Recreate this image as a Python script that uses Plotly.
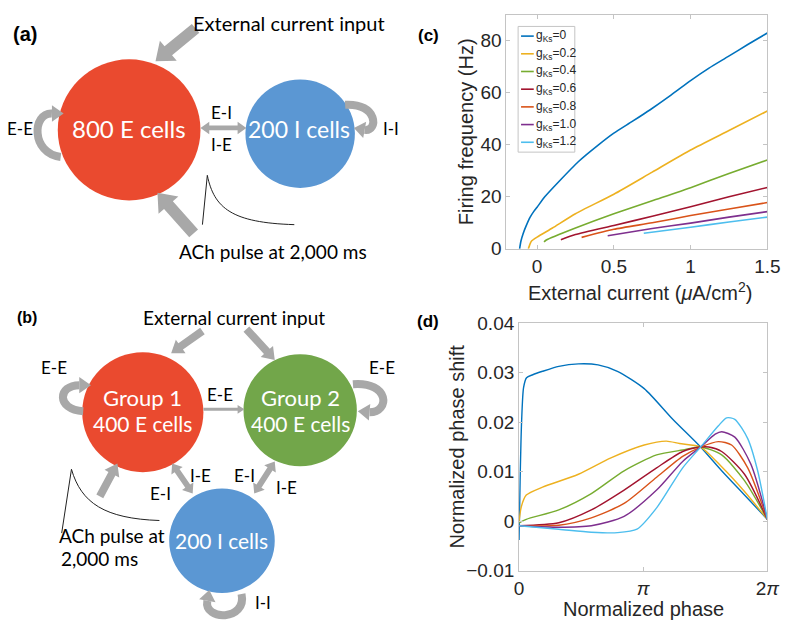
import plotly.graph_objects as go

W, H = 795, 634

# ---------------- data: panel (c) f-I curves ----------------
gks_labels = ["0", "0.2", "0.4", "0.6", "0.8", "1.0", "1.2"]
colors = ["#0072BD", "#EDB120", "#77AC30", "#A2142F", "#D95319", "#7E2F8E", "#4DBEEE"]

fi_x_g00 = [-0.114, -0.105, -0.09, -0.07, -0.047, -0.02, 0, 0.05, 0.144, 0.27, 0.4, 0.5, 0.62, 0.737, 0.87, 1.0, 1.12, 1.246, 1.37, 1.5]
fi_y_g00 = [0, 3, 6, 9, 12, 14.5, 16, 20, 26, 33.6, 40, 44.5, 49, 53.5, 59, 64.7, 69.5, 74, 78.5, 83]
fi_x_g02 = [-0.057, -0.045, -0.036, 0, 0.1, 0.25, 0.5, 0.75, 1.0, 1.25, 1.5]
fi_y_g02 = [0, 2, 3, 4.5, 8, 13.5, 21, 29.5, 38, 45.5, 53]
fi_x_g04 = [0.045, 0.06, 0.25, 0.5, 0.75, 1.0, 1.25, 1.5]
fi_y_g04 = [2.7, 3.4, 8, 13.5, 18.5, 23.5, 29, 34.2]
fi_x_g06 = [0.155, 0.25, 0.5, 0.75, 1.0, 1.25, 1.5]
fi_y_g06 = [3.5, 5.5, 9, 12.5, 16.2, 20, 23.6]
fi_x_g08 = [0.29, 0.5, 0.75, 1.0, 1.25, 1.5]
fi_y_g08 = [4.4, 7.5, 10, 12.8, 15.3, 17.8]
fi_x_g10 = [0.46, 0.75, 1.0, 1.25, 1.5]
fi_y_g10 = [5, 7.8, 9.9, 12.2, 14.3]
fi_x_g12 = [0.695, 1.0, 1.25, 1.5]
fi_y_g12 = [6, 8.3, 10.3, 12.2]

# ---------------- data: panel (d) phase response curves ----------------
# phase as a fraction of the cycle (0 .. 1 == 0 .. 2*pi)
prc_x_g00 = [0, 0.004, 0.010, 0.018, 0.03, 0.055, 0.0945, 0.160, 0.239, 0.318, 0.396, 0.504, 0.619, 0.731, 0.816, 0.908, 1.0]
prc_y_g00 = [-0.0038, 0.008, 0.020, 0.027, 0.0290, 0.0296, 0.0303, 0.0313, 0.0318, 0.0316, 0.0303, 0.0268, 0.0206, 0.0150, 0.0102, 0.0053, 0.0004]
prc_x_g02 = [0, 0.0092, 0.0289, 0.0945, 0.239, 0.370, 0.504, 0.593, 0.646, 0.731, 0.816, 0.908, 1.0]
prc_y_g02 = [0, 0.0030, 0.0053, 0.0069, 0.0095, 0.0128, 0.0154, 0.0162, 0.0157, 0.0150, 0.0110, 0.0060, 0.0004]
prc_x_g04 = [0, 0.0289, 0.160, 0.291, 0.423, 0.554, 0.659, 0.731, 0.816, 0.908, 1.0]
prc_y_g04 = [-0.0003, 0.0004, 0.0023, 0.0056, 0.0102, 0.0134, 0.0144, 0.0150, 0.0134, 0.0082, 0.0004]
prc_x_g06 = [0, 0.160, 0.291, 0.423, 0.554, 0.659, 0.731, 0.764, 0.816, 0.908, 1.0]
prc_y_g06 = [-0.0009, -0.0003, 0.0023, 0.0063, 0.0108, 0.0141, 0.0150, 0.0150, 0.0141, 0.0095, 0.0004]
prc_x_g08 = [0, 0.160, 0.291, 0.423, 0.554, 0.659, 0.731, 0.803, 0.856, 0.921, 1.0]
prc_y_g08 = [-0.0009, -0.0008, 0.0007, 0.0036, 0.0089, 0.0131, 0.0150, 0.0161, 0.0154, 0.0108, 0.0004]
prc_x_g10 = [0, 0.160, 0.291, 0.423, 0.554, 0.659, 0.731, 0.790, 0.816, 0.869, 0.934, 1.0]
prc_y_g10 = [-0.0009, -0.0012, -0.0009, 0.0010, 0.0063, 0.0121, 0.0150, 0.0176, 0.0181, 0.0170, 0.0115, 0.0004]
prc_x_g12 = [0, 0.160, 0.291, 0.396, 0.475, 0.554, 0.659, 0.731, 0.803, 0.836, 0.869, 0.921, 0.961, 1.0]
prc_y_g12 = [-0.0009, -0.0016, -0.0022, -0.0023, -0.0016, 0.0027, 0.0108, 0.0150, 0.0193, 0.0209, 0.0206, 0.0167, 0.0102, 0.0004]

fi_x = [fi_x_g00, fi_x_g02, fi_x_g04, fi_x_g06, fi_x_g08, fi_x_g10, fi_x_g12]
fi_y = [fi_y_g00, fi_y_g02, fi_y_g04, fi_y_g06, fi_y_g08, fi_y_g10, fi_y_g12]
prc_x = [prc_x_g00, prc_x_g02, prc_x_g04, prc_x_g06, prc_x_g08, prc_x_g10, prc_x_g12]
prc_y = [prc_y_g00, prc_y_g02, prc_y_g04, prc_y_g06, prc_y_g08, prc_y_g10, prc_y_g12]

c_xticks = [0, 0.5, 1, 1.5]
c_xticklabels = ["0", "0.5", "1", "1.5"]
c_yticks = [0, 20, 40, 60, 80]
d_xticks = [0, 0.5, 1]
d_xticklabels = ["0", "<i>π</i>", "2<i>π</i>"]
d_yticks = [-0.01, 0, 0.01, 0.02, 0.03, 0.04]
d_yticklabels = ["−0.01", "0", "0.01", "0.02", "0.03", "0.04"]

fig = go.Figure()
for i in range(len(gks_labels)):
    fig.add_trace(go.Scatter(x=fi_x[i], y=fi_y[i], mode="lines", xaxis="x", yaxis="y",
                             line=dict(color=colors[i], width=1.6, shape="spline", smoothing=0.6),
                             name="g<sub>Ks</sub>=" + gks_labels[i], showlegend=False))
for i in range(len(gks_labels)):
    fig.add_trace(go.Scatter(x=prc_x[i], y=prc_y[i], mode="lines", xaxis="x2", yaxis="y2",
                             line=dict(color=colors[i], width=1.4, shape="spline", smoothing=0.7),
                             name="g<sub>Ks</sub>=" + gks_labels[i], showlegend=False))

SANS = "Liberation Sans, Arial, sans-serif"
AX_FONT = dict(family=SANS, size=19, color="#262626")
axis_common = dict(showgrid=False, zeroline=False, showline=True, mirror="ticks",
                   linecolor="#c4c4c4", linewidth=1, ticks="inside", ticklen=4,
                   tickcolor="#c4c4c4", tickfont=AX_FONT)


def px(x):
    return x / W


def py(y):
    return 1 - y / H


fig.update_layout(
    width=W, height=H, margin=dict(l=0, r=0, t=0, b=0),
    paper_bgcolor="white", plot_bgcolor="white", showlegend=False,
    xaxis=dict(domain=[px(513), px(780)], range=[-0.2, 1.5], tickvals=c_xticks,
               ticktext=c_xticklabels, anchor="y", **axis_common),
    yaxis=dict(domain=[py(247), py(5)], range=[0, 90], tickvals=c_yticks, anchor="x", **axis_common),
    xaxis2=dict(domain=[px(526), px(780)], range=[0, 1], tickvals=d_xticks,
                ticktext=d_xticklabels, anchor="y2", **axis_common),
    yaxis2=dict(domain=[py(580), py(324)], range=[-0.01, 0.04], tickvals=d_yticks,
                ticktext=d_yticklabels, anchor="x2", **axis_common),
)

shapes = []
annotations = []

DIA = "Lato, Open Sans, sans-serif"


def text(x, y, s, size=16, color="black", family=DIA, bold=False, angle=0, xanchor="center"):
    annotations.append(dict(x=px(x), y=py(y), xref="paper", yref="paper", text=("<b>%s</b>" % s) if bold else s,
                            showarrow=False, xanchor=xanchor, yanchor="middle", textangle=angle,
                            font=dict(family=family, size=size, color=color)))


def circle(cx, cy, r, color):
    shapes.append(dict(type="circle", xref="paper", yref="paper", x0=px(cx - r), x1=px(cx + r),
                       y0=py(cy + r), y1=py(cy - r), fillcolor=color, line=dict(width=0), layer="below"))


def path_str(pts, close=True):
    s = "M " + " L ".join("%.5f,%.5f" % (px(x), py(y)) for x, y in pts)
    return s + (" Z" if close else "")


def arrow(x0, y0, x1, y1, shaft=8, head=18, hlen=12, double=False, color="#A8A8A8"):
    import math
    dx, dy = x1 - x0, y1 - y0
    L = math.hypot(dx, dy)
    ux, uy = dx / L, dy / L
    nx, ny = -uy, ux
    def P(bx, by, a, b):
        return (bx + ux * a + nx * b, by + uy * a + ny * b)
    pts = []
    if double:
        pts += [(x0, y0), P(x0, y0, hlen, head / 2), P(x0, y0, hlen, shaft / 2)]
    else:
        pts += [P(x0, y0, 0, shaft / 2)]
    pts += [P(x1, y1, -hlen, shaft / 2), P(x1, y1, -hlen, head / 2), (x1, y1),
            P(x1, y1, -hlen, -head / 2), P(x1, y1, -hlen, -shaft / 2)]
    if double:
        pts += [P(x0, y0, hlen, -shaft / 2), P(x0, y0, hlen, -head / 2)]
    else:
        pts += [P(x0, y0, 0, -shaft / 2)]
    shapes.append(dict(type="path", xref="paper", yref="paper", path=path_str(pts),
                       fillcolor=color, line=dict(width=0)))


def loop(p0, c1, c2, pe, tip, width=8, head=17, color="#A8A8A8"):
    import math
    path = "M %.5f,%.5f C %.5f,%.5f %.5f,%.5f %.5f,%.5f" % (
        px(p0[0]), py(p0[1]), px(c1[0]), py(c1[1]), px(c2[0]), py(c2[1]), px(pe[0]), py(pe[1]))
    shapes.append(dict(type="path", xref="paper", yref="paper", path=path,
                       line=dict(color=color, width=width)))
    dx, dy = tip[0] - pe[0], tip[1] - pe[1]
    L = math.hypot(dx, dy)
    nx, ny = -dy / L, dx / L
    pts = [(pe[0] + nx * head / 2, pe[1] + ny * head / 2), tip, (pe[0] - nx * head / 2, pe[1] - ny * head / 2)]
    shapes.append(dict(type="path", xref="paper", yref="paper", path=path_str(pts),
                       fillcolor=color, line=dict(width=0)))


def pulse(pts_line, curve):
    path = path_str(pts_line, close=False) + " C " + " ".join("%.5f,%.5f" % (px(x), py(y)) for x, y in curve)
    shapes.append(dict(type="path", xref="paper", yref="paper", path=path, line=dict(color="#222", width=1)))


# ---------------- panel (a) ----------------
circle(127, 124, 73, "#EA4A2F")
circle(302, 128, 56, "#5B97D3")
text(20, 25, "(a)", size=20, family=SANS, bold=True)
text(291, 13, "External current input", size=20)
arrow(195, 19, 154, 53, shaft=12, head=27, hlen=17)
arrow(193, 231, 156, 189, shaft=12, head=27, hlen=17)
arrow(200, 122, 247, 122, shaft=5, head=13, hlen=9, double=True)
text(127, 123, "800 E cells", size=24, color="white")
text(301, 123, "200 I cells", size=23, color="white")
text(222, 106, "E-I", size=17)
text(222, 139, "I-E", size=17)
text(15, 123, "E-E", size=17)
text(395, 123, "I-I", size=17)
loop((57, 152), (26, 148), (28, 106), (48, 107), (60, 107))
loop((348, 98), (382, 96), (382, 126), (368, 124), (357, 122))
pulse([(202, 222), (207, 171)], [(214, 205), (232, 220), (296, 222)])
text(274, 250, "ACh pulse at 2,000 ms", size=19)

# ---------------- panel (b) ----------------
circle(141, 416, 62, "#EA4A2F")
circle(302, 414, 58, "#72A64A")
circle(222, 549, 54, "#5B97D3")
text(22, 318, "(b)", size=16, family=SANS, bold=True)
text(234, 318, "External current input", size=19)
arrow(202, 332, 170, 355, shaft=8, head=17, hlen=12)
arrow(247, 330, 276, 362, shaft=8, head=17, hlen=12)
arrow(203, 413, 245, 413, shaft=3, head=9, hlen=7)
arrow(171, 469, 192, 500, shaft=6, head=14, hlen=9, double=True)
arrow(276, 467, 255, 500, shaft=6, head=14, hlen=9, double=True)
arrow(97, 503, 115, 469, shaft=8, head=17, hlen=12)
text(141, 401, "Group 1", size=22, color="white")
text(141, 428, "400 E cells", size=21, color="white")
text(302, 401, "Group 2", size=22, color="white")
text(302, 428, "400 E cells", size=21, color="white")
text(222, 549, "200 I cells", size=21, color="white")
text(220, 398, "E-E", size=17)
text(50, 370, "E-E", size=17)
text(386, 370, "E-E", size=17)
text(200, 481, "I-E", size=17)
text(159, 500, "E-I", size=17)
text(245, 481, "E-I", size=17)
text(288, 494, "I-E", size=17)
text(264, 613, "I-I", size=17)
loop((80, 415), (52, 413), (54, 388), (76, 388), (88, 388))
loop((356, 387), (394, 384), (394, 416), (373, 416), (361, 415))
loop((242, 604), (248, 632), (203, 632), (207, 611), (209, 600))
pulse([(58, 541), (68, 475)], [(78, 510), (102, 526), (158, 528)])
text(109, 543, "ACh pulse at", size=19)
text(55, 567, "2,000 ms", size=19, xanchor="left")

# ---------------- panel (c)/(d) labels ----------------
text(433, 26, "(c)", size=17, family=SANS, bold=True)
text(433, 322, "(d)", size=17, family=SANS, bold=True)
text(471, 126, "Firing frequency (Hz)", size=20, family=SANS, color="#262626", angle=-90)
text(650, 291, "External current (<i>μ</i>A/cm<sup>2</sup>)", size=20, family=SANS, color="#262626")
text(463, 452, "Normalized phase shift", size=20, family=SANS, color="#262626", angle=-90)
text(653, 620, "Normalized phase", size=20, family=SANS, color="#262626")

# legend for (c)
shapes.append(dict(type="rect", xref="paper", yref="paper", x0=px(525), x1=px(583), y0=py(147), y1=py(17),
                   fillcolor="white", line=dict(color="#c4c4c4", width=1)))
for i, lab in enumerate(gks_labels):
    yy = 27 + i * 18.3
    shapes.append(dict(type="line", xref="paper", yref="paper", x0=px(528), x1=px(541), y0=py(yy), y1=py(yy),
                       line=dict(color=colors[i], width=1.6)))
    text(541.5, yy, "g<sub>Ks</sub>=" + lab, size=12, family=SANS, color="#262626", xanchor="left")

fig.update_layout(shapes=shapes, annotations=annotations)
fig.write_html("out.html", config={"displayModeBar": False},
               post_script="document.body.style.margin='0px';")
